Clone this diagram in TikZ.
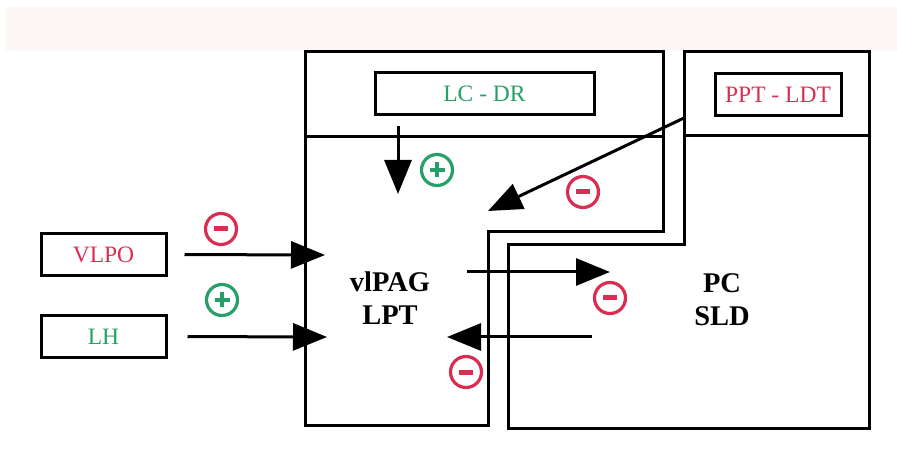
\documentclass[tikz,border=0pt]{standalone}
\usepackage{fontspec}
\setmainfont{Liberation Serif}
\usetikzlibrary{arrows.meta}
\definecolor{inhred}{RGB}{218,45,82}
\definecolor{excgreen}{RGB}{38,160,104}
\definecolor{bandtint}{RGB}{253,248,245}

\begin{document}
\begin{tikzpicture}[x=1pt, y=-1pt,
    every node/.style={font=\fontsize{23.5}{27}\selectfont},
    nucbox/.style={draw, line width=3pt, minimum height=42pt, inner sep=0pt},
    link/.style={-{Triangle[length=34pt,width=27pt]}, line width=3pt},
    sign/.style={circle, draw, line width=3.2pt, minimum size=31pt, inner sep=0pt},
    inh/.style={sign, inhred, path picture={
        \draw[inhred, line width=5pt] ([xshift=-7pt]path picture bounding box.center) -- ([xshift=7pt]path picture bounding box.center);}},
    exc/.style={sign, excgreen, path picture={
        \draw[excgreen, line width=4.5pt] ([xshift=-7.5pt]path picture bounding box.center) -- ([xshift=7.5pt]path picture bounding box.center);
        \draw[excgreen, line width=4.5pt] ([yshift=-7.5pt]path picture bounding box.center) -- ([yshift=7.5pt]path picture bounding box.center);}}]
    \useasboundingbox (0,0) rectangle (897,470);
    \fill[bandtint] (5,7) rectangle (897,50);

    % Regions
    \draw[line width=3pt, line join=miter] (305,52) -- (663,52) -- (663,232) -- (488,232) -- (488,425) -- (305,425) -- cycle;
    \draw[line width=3pt] (305,137) -- (663,137);
    \draw[line width=3pt, line join=miter] (684,52) -- (869,52) -- (869,428) -- (508,428) -- (508,245) -- (684,245) -- cycle;
    \draw[line width=3pt] (684,136) -- (869,136);

    % Nuclei
    \node[nucbox, minimum width=125pt, text=inhred] (vlpo) at (103.5,254.5) {VLPO};
    \node[nucbox, minimum width=125pt, text=excgreen] (lh) at (103.5,336.5) {LH};
    \node[nucbox, minimum width=219pt, text=excgreen] (lcdr) at (484.5,93.5) {LC - DR};
    \node[nucbox, minimum width=126pt, text=inhred] (pptldt) at (778,95) {PPT - LDT};

    \node[font=\bfseries\fontsize{28.5}{33}\selectfont, align=center] (vlpag) at (390,298) {vlPAG\\LPT};
    \node[font=\bfseries\fontsize{28.5}{33}\selectfont, align=center] (pcsld) at (722,300) {PC\\SLD};

    % Projections
    \coordinate (vlpoTip) at (325,255);
    \coordinate (lhTip) at (327,337);
    \coordinate (lcTip) at (398,194);
    \coordinate (pptFrom) at (684,118);
    \coordinate (pptTip) at (488,211);
    \coordinate (outFrom) at (467,272);
    \coordinate (outTip) at (610,272);
    \coordinate (backFrom) at (592,337);
    \coordinate (backTip) at (447,337);

    \draw[link, shorten <=17pt] (vlpo.east) -- (vlpoTip);
    \draw[link, shorten <=20pt] (lh.east) -- (lhTip);
    \draw[link, shorten <=10pt] (lcdr.south -| lcTip) -- (lcTip);
    \draw[link] (pptFrom) -- (pptTip);
    \draw[link] (outFrom) -- (outTip);
    \draw[link] (backFrom) -- (backTip);

    % Signs
    \node[inh] (s1) at (221,229) {};
    \node[exc] (s2) at (222,300) {};
    \node[exc] (s3) at (437,170) {};
    \node[inh] (s4) at (583,192) {};
    \node[inh] (s5) at (610,298) {};
    \node[inh] (s6) at (466,372) {};
\end{tikzpicture}
\end{document}
